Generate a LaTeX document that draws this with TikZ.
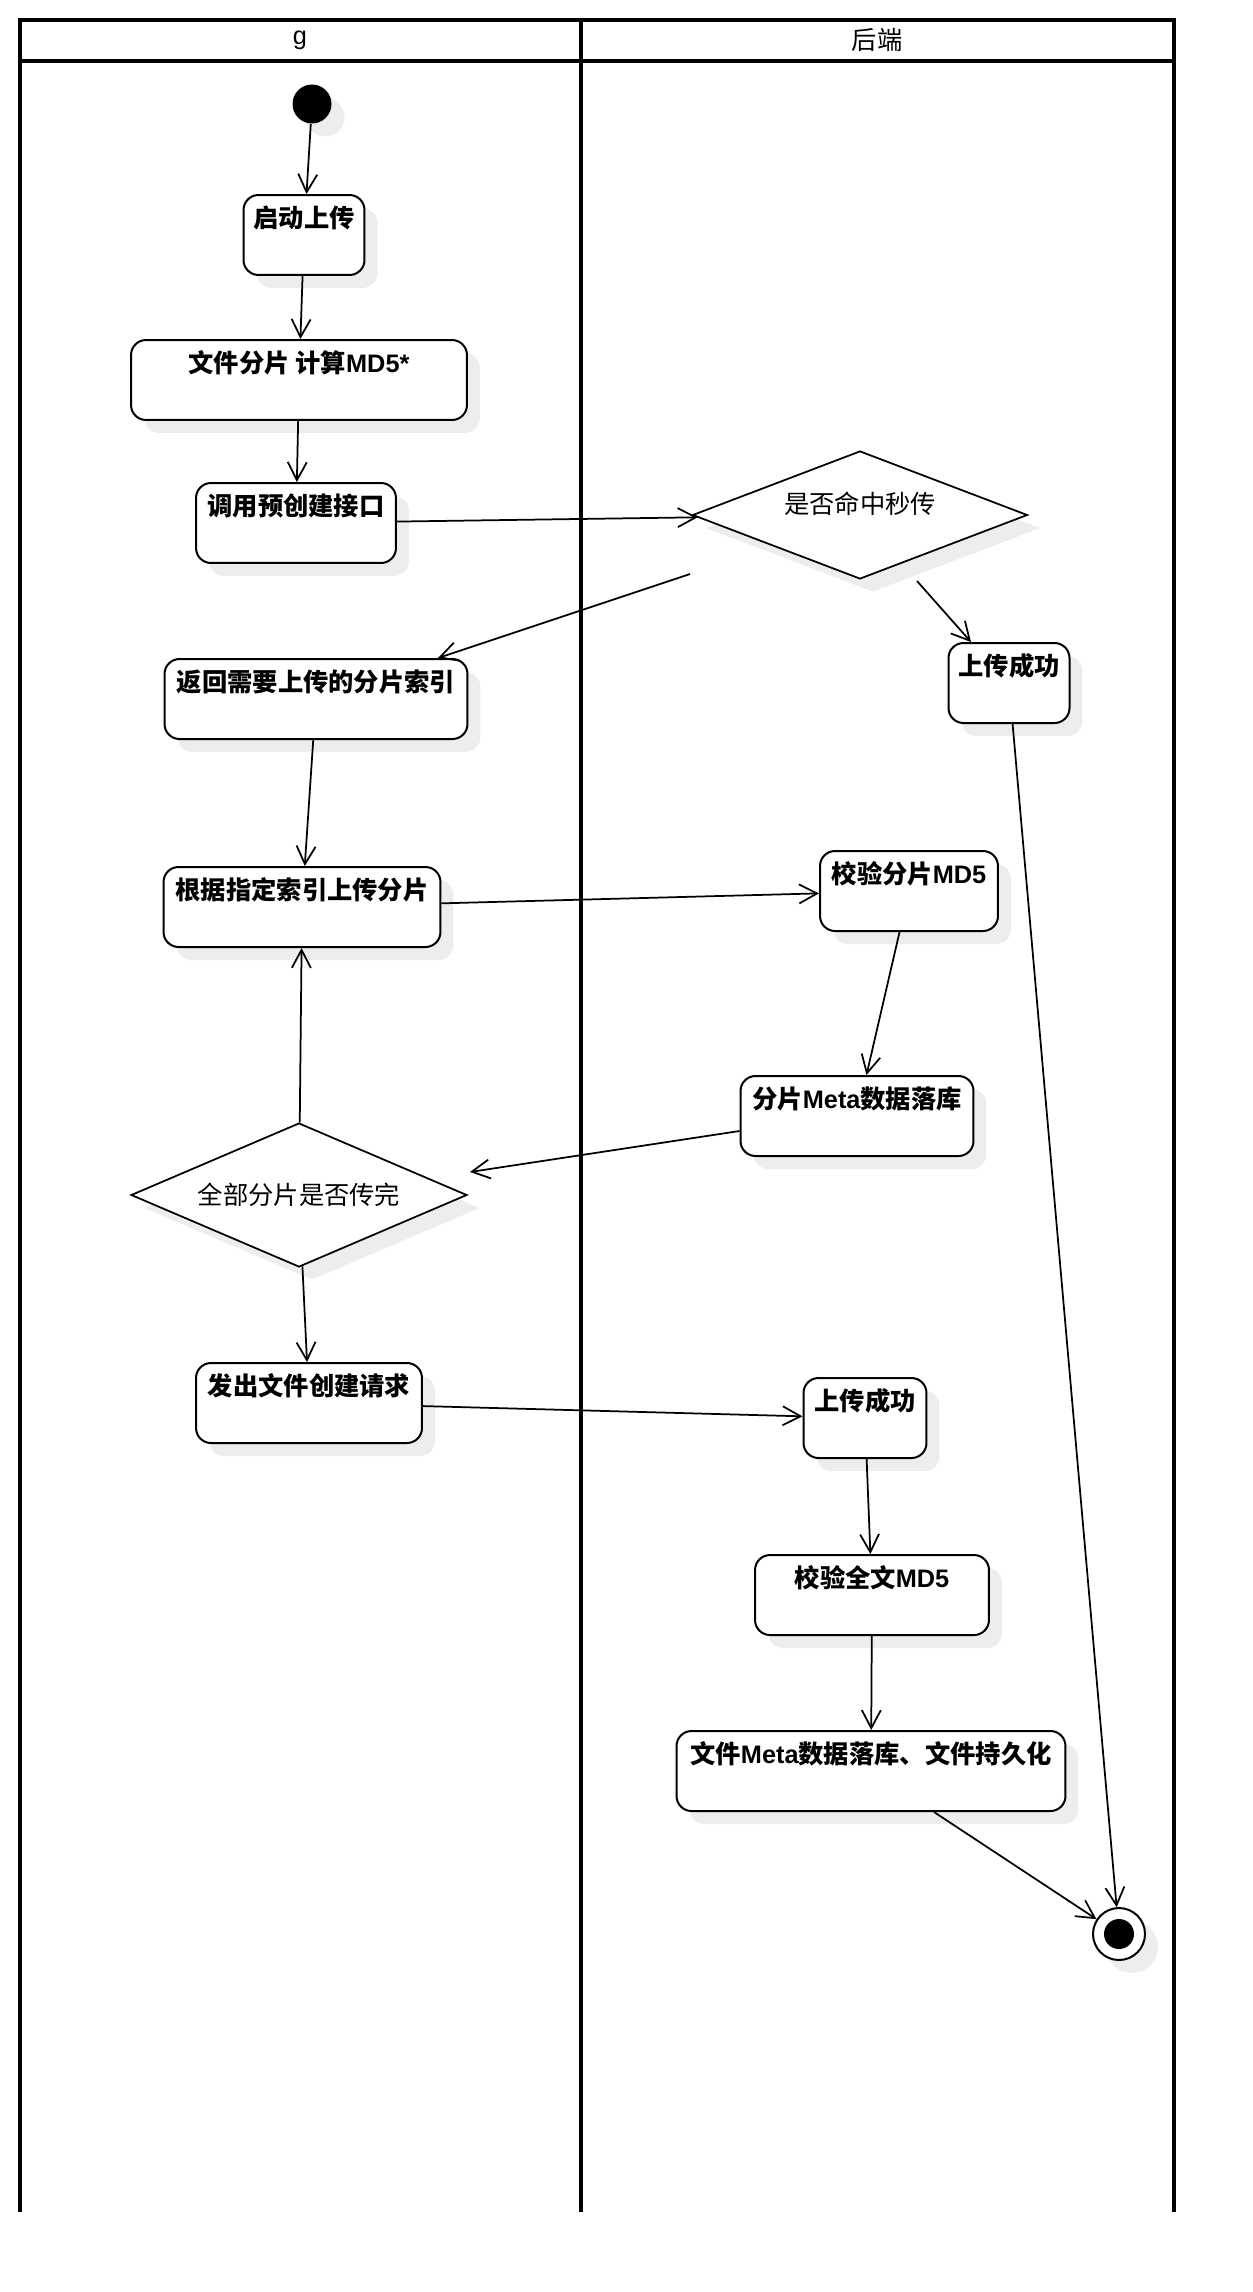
\documentclass[tikz,border=0pt]{standalone}
\usepackage{fontspec}
\setmainfont{Liberation Sans}
\newfontfamily\cjk{Noto Sans CJK SC}
\usetikzlibrary{shapes.geometric, arrows.meta, shadows}
\newcommand{\diagfont}{\fontsize{14.4}{17}\selectfont\cjk}
\newcommand{\lat}[1]{{\rmfamily #1}}
\tikzset{
  lane/.style={line width=0.075cm},
  shade/.style={drop shadow={shadow xshift=0.26cm, shadow yshift=-0.26cm, fill=black!7, opacity=1}},
  action/.style={draw, line width=0.04cm, fill=white, rounded corners=0.3cm, shade,
    font=\diagfont\bfseries, inner sep=0pt, minimum height=1.6cm,
    text height=0.65cm, text depth=0.95cm},
  decision/.style={diamond, aspect=2.6, draw, line width=0.035cm, fill=white, shade, inner sep=0pt, font=\diagfont},
  flow/.style={line width=0.035cm, -{Straight Barb[length=0.36cm, width=0.38cm]}}
}

\begin{document}
\begin{tikzpicture}[x=0.02cm, y=-0.02cm]
    \useasboundingbox (0,0) rectangle (1252,2292);
    % Lanes
    \draw[lane] (20,2212) -- (20,20) -- (1174,20) -- (1174,2212);
    \draw[lane] (20,61) -- (1174,61);
    \draw[lane] (581,20) -- (581,2212);
    \node[font=\diagfont] (client) at (300,40) {\lat{g}};
    \node[font=\diagfont] (server) at (877,40) {后端};

    % Client side
    \node[circle, fill=black, minimum size=0.78cm, inner sep=0pt, shade] (start) at (312,104) {};
    \node[action, minimum width=2.42cm] (launch) at (304,235) {启动上传};
    \node[action, minimum width=6.72cm] (split) at (299,380) {文件分片 计算\lat{MD5*}};
    \node[action, minimum width=4.0cm] (precreate) at (296,523) {调用预创建接口};
    \node[action, minimum width=6.06cm] (index) at (316,699) {返回需要上传的分片索引};
    \node[action, minimum width=5.54cm] (send) at (302,907) {根据指定索引上传分片};
    \node[decision, minimum width=6.72cm, minimum height=2.88cm] (all) at (299,1195) {全部分片是否传完};
    \node[action, minimum width=4.52cm] (create) at (309,1403) {发出文件创建请求};

    % Server side
    \node[decision, minimum width=6.7cm, minimum height=2.56cm, text depth=0.5cm] (hit) at (860,515) {是否命中秒传};
    \node[action, minimum width=2.42cm] (done1) at (1009,683) {上传成功};
    \node[action, minimum width=3.56cm] (chk) at (909,891) {校验分片\lat{MD5}};
    \node[action, minimum width=4.66cm] (meta) at (857,1116) {分片\lat{Meta}数据落库};
    \node[action, minimum width=2.46cm] (done2) at (865,1418) {上传成功};
    \node[action, minimum width=4.68cm] (full) at (872,1595) {校验全文\lat{MD5}};
    \node[action, minimum width=7.78cm] (persist) at (871,1771) {文件\lat{Meta}数据落库、文件持久化};
    \node[circle, draw, line width=0.04cm, fill=white, minimum size=1.04cm, inner sep=0pt, shade] (stop) at (1119,1934) {};
    \node[circle, fill=black, minimum size=0.6cm, inner sep=0pt] (stopdot) at (stop.center) {};
    \coordinate (hitout) at (690,574);
    \coordinate (hityes) at (917,581);
    \coordinate (allin) at (470,1172);

    % Flows
    \draw[flow] (start) -- (launch);
    \draw[flow] (launch) -- (split);
    \draw[flow] (split) -- (precreate);
    \draw[flow] (precreate) -- (hit);
    \draw[flow] (hitout) -- ([xshift=2.44cm]index.north);
    \draw[flow] (hityes) -- ([xshift=-0.76cm]done1.north);
    \draw[flow] (index) -- (send);
    \draw[flow] (send) -- (chk);
    \draw[flow] (chk) -- (meta);
    \draw[flow] ([yshift=-0.3cm]meta.west) -- (allin);
    \draw[flow] (all) -- (send);
    \draw[flow] (all) -- (create);
    \draw[flow] (create) -- (done2);
    \draw[flow] (done2) -- (full);
    \draw[flow] (full) -- (persist);
    \draw[flow] ([xshift=1.26cm]persist.south) -- (stop);
    \draw[flow] (done1) -- (stop);
\end{tikzpicture}
\end{document}
